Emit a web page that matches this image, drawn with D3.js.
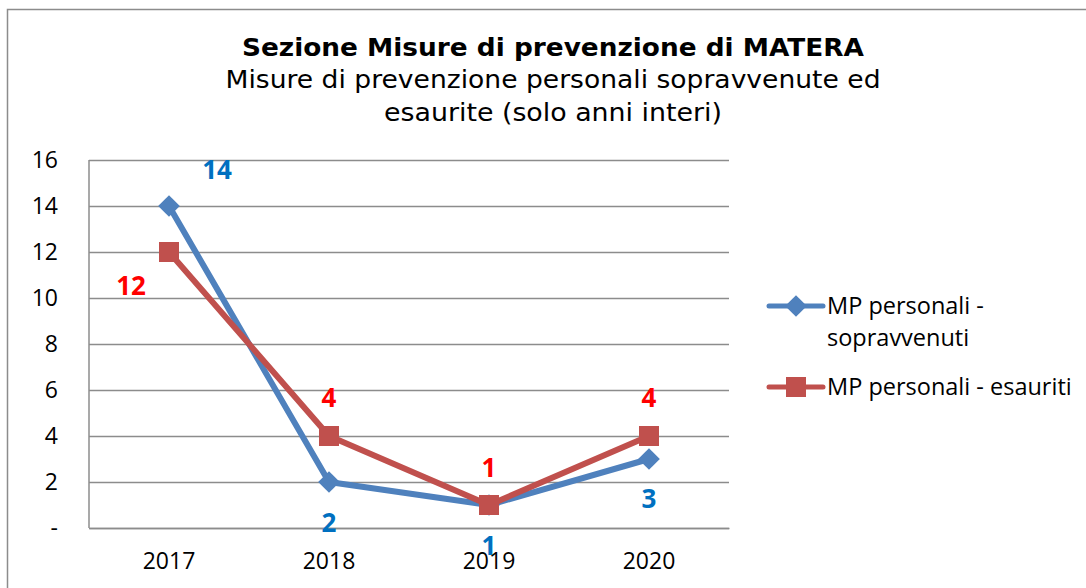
<!DOCTYPE html>
<html>
<head>
<meta charset="utf-8">
<script src="https://cdn.jsdelivr.net/npm/d3@7"></script>
<style>
  body { margin: 0; background: #fff; }
  svg { display: block; }
</style>
</head>
<body>
<svg id="chart"></svg>
<script>
const years = ['2017', '2018', '2019', '2020'];
const sopravvenuti = [14, 2, 1, 3];
const esauriti = [12, 4, 1, 4];
const yTicks = [0, 2, 4, 6, 8, 10, 12, 14, 16];
const seriesNames = ['MP personali - sopravvenuti', 'MP personali - esauriti'];
const titleLines = [
  'Sezione Misure di prevenzione di MATERA',
  'Misure di prevenzione personali sopravvenute ed',
  'esaurite (solo anni interi)',
];

const width = 1086;
const height = 588;
const plot = { left: 89, right: 729, top: 160, bottom: 528 };
const blue = '#4F81BD';
const red = '#C0504D';
const gridColor = '#8C8C8C';
const tickFont = '"Open Sans", Lato, sans-serif';

const svg = d3.select('#chart').attr('width', width).attr('height', height);
svg.selectAll('*').remove();

// Outer frame
svg.append('rect')
  .attr('x', 7.5).attr('y', 9.5)
  .attr('width', width + 10).attr('height', height + 10)
  .attr('fill', 'none').attr('stroke', '#8C8C8C').attr('stroke-width', 1.5);

// Titles
const titleSpec = [
  { y: 56, weight: 'bold', len: 622 },
  { y: 88, weight: 'normal', len: 655 },
  { y: 121, weight: 'normal', len: 338 },
];
svg.append('g').selectAll('text')
  .data(titleLines)
  .join('text')
  .attr('x', 553)
  .attr('y', (d, i) => titleSpec[i].y)
  .attr('text-anchor', 'middle')
  .attr('font-family', '"DejaVu Sans", Verdana, sans-serif')
  .attr('font-size', 25)
  .attr('font-weight', (d, i) => titleSpec[i].weight)
  .attr('textLength', (d, i) => titleSpec[i].len)
  .attr('lengthAdjust', 'spacingAndGlyphs')
  .attr('fill', '#000')
  .text((d) => d);

// Scales
const x = d3.scaleBand().domain(years).range([plot.left, plot.right]);
const y = d3.scaleLinear().domain([0, 16]).range([plot.bottom, plot.top]);
const cx = (d) => x(d) + x.bandwidth() / 2;

// Gridlines + y axis
const yAxis = svg.append('g')
  .attr('transform', `translate(${plot.left},0)`)
  .call(d3.axisLeft(y).tickValues(yTicks).tickSize(-(plot.right - plot.left))
    .tickPadding(31).tickFormat((d) => (d === 0 ? '-' : d)));
yAxis.selectAll('.tick line').attr('stroke', gridColor).attr('stroke-width', 1.5);
yAxis.select('.domain').remove();
yAxis.selectAll('.tick text')
  .attr('font-family', tickFont).attr('font-size', 23).attr('fill', '#000');

svg.append('line')
  .attr('x1', plot.left).attr('x2', plot.left)
  .attr('y1', plot.top).attr('y2', plot.bottom)
  .attr('stroke', gridColor).attr('stroke-width', 1.5);

// X axis
const xAxis = svg.append('g')
  .attr('transform', `translate(0,${plot.bottom})`)
  .call(d3.axisBottom(x).tickSize(0).tickPadding(25));
xAxis.select('.domain').attr('stroke', gridColor).attr('stroke-width', 1.5);
xAxis.selectAll('.tick text')
  .attr('font-family', tickFont).attr('font-size', 23).attr('fill', '#000');

// Lines
const line = d3.line().x((d, i) => cx(years[i])).y((d) => y(d));
svg.append('path').datum(sopravvenuti).attr('d', line)
  .attr('fill', 'none').attr('stroke', blue).attr('stroke-width', 6).attr('stroke-linejoin', 'round');
svg.append('path').datum(esauriti).attr('d', line)
  .attr('fill', 'none').attr('stroke', red).attr('stroke-width', 6).attr('stroke-linejoin', 'round');

// Markers
const diamond = d3.symbol().type(d3.symbolDiamond2).size(300);
svg.append('g').selectAll('path')
  .data(sopravvenuti)
  .join('path')
  .attr('d', diamond)
  .attr('transform', (d, i) => `translate(${cx(years[i])},${y(d)})`)
  .attr('fill', blue);

svg.append('g').selectAll('rect')
  .data(esauriti)
  .join('rect')
  .attr('x', (d, i) => cx(years[i]) - 10)
  .attr('y', (d) => y(d) - 10)
  .attr('width', 20).attr('height', 20)
  .attr('fill', red);

// Data labels (offsets from each point)
const blueOffsets = [[48, -36], [0, 41], [0, 41], [0, 40]];
const redOffsets = [[-38, 34], [0, -38], [0, -37], [0, -38]];
const labelFont = '"Open Sans", Lato, sans-serif';

svg.append('g').selectAll('text')
  .data(sopravvenuti)
  .join('text')
  .attr('x', (d, i) => cx(years[i]) + blueOffsets[i][0])
  .attr('y', (d, i) => y(d) + blueOffsets[i][1])
  .attr('dy', '0.36em')
  .attr('text-anchor', 'middle')
  .attr('font-family', labelFont).attr('font-weight', 'bold').attr('font-size', 26)
  .attr('fill', '#0070C0')
  .text((d) => d);

svg.append('g').selectAll('text')
  .data(esauriti)
  .join('text')
  .attr('x', (d, i) => cx(years[i]) + redOffsets[i][0])
  .attr('y', (d, i) => y(d) + redOffsets[i][1])
  .attr('dy', '0.36em')
  .attr('text-anchor', 'middle')
  .attr('font-family', labelFont).attr('font-weight', 'bold').attr('font-size', 26)
  .attr('fill', '#FF0000')
  .text((d) => d);

// Legend
const legend = svg.append('g').attr('font-family', tickFont).attr('font-size', 23.5).attr('fill', '#000');
const lg1 = legend.append('g').attr('transform', 'translate(769,306)');
lg1.append('line').attr('x1', 0).attr('x2', 54).attr('stroke', blue).attr('stroke-width', 5).attr('stroke-linecap', 'round');
lg1.append('path').attr('d', diamond).attr('transform', 'translate(27,0)').attr('fill', blue);
const words = seriesNames[0].split(' - ');
lg1.append('text').attr('x', 58).attr('y', 8).text(`${words[0]} -`);
lg1.append('text').attr('x', 58).attr('y', 40).text(words[1]);

const lg2 = legend.append('g').attr('transform', 'translate(769,387)');
lg2.append('line').attr('x1', 0).attr('x2', 54).attr('stroke', red).attr('stroke-width', 5).attr('stroke-linecap', 'round');
lg2.append('rect').attr('x', 17).attr('y', -10).attr('width', 20).attr('height', 20).attr('fill', red);
lg2.append('text').attr('x', 58).attr('y', 8).text(seriesNames[1]);
</script>
</body>
</html>
